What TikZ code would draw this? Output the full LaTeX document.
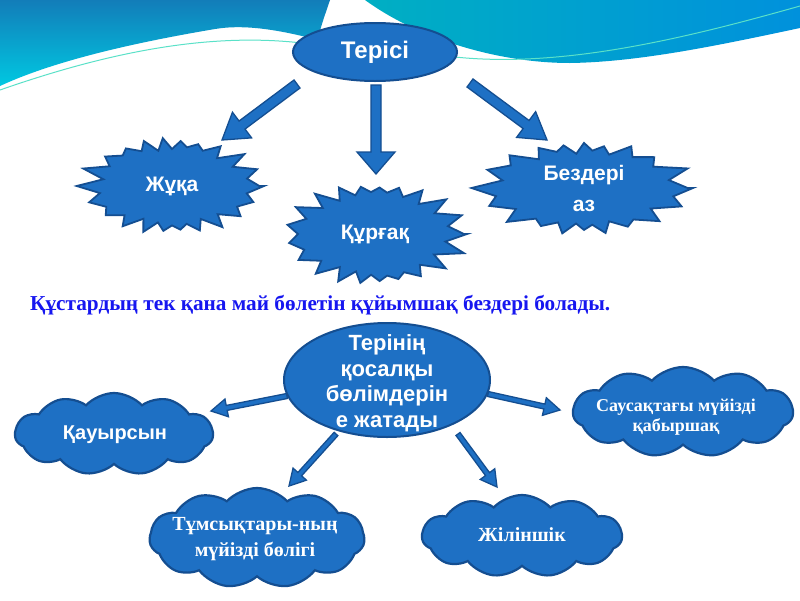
\documentclass[tikz,border=0pt]{standalone}
\usepackage{fontspec}
\setmainfont{Liberation Sans}
\newfontfamily\serifb{Liberation Serif}
\usetikzlibrary{shapes.geometric,shapes.symbols,calc}
\definecolor{mblue}{RGB}{30,112,196}
\definecolor{dblue}{RGB}{20,78,145}
\definecolor{tblue}{RGB}{22,22,240}
\definecolor{wA}{RGB}{18,125,185}
\definecolor{wB}{RGB}{0,200,225}
\definecolor{wC}{RGB}{0,175,195}
\definecolor{wD}{RGB}{0,145,220}
\definecolor{wL}{RGB}{90,225,200}
\newcommand\barrow[5]{%
  \coordinate (bB) at ($(#2)!#5!(#1)$);
  \filldraw[blockarrow] ($(#1)!#3!90:(#2)$) -- ($(bB)!#3!90:(#2)$) -- ($(bB)!#4!90:(#2)$) -- (#2) -- ($(bB)!#4!-90:(#2)$) -- ($(bB)!#3!-90:(#2)$) -- ($(#1)!#3!-90:(#2)$) -- cycle;
}
% star burst drawn around a named node: cx, cy, rx, ry, vertices, phase, spacing correction
\newcommand\starpath[7]{%
  \filldraw[burstst] plot[samples at={0,...,#5}] ({#1+#3*(1-0.2*mod(\x,2))*(1+0.05*sin(\x*#6))*cos(\x*(360/#5)+#7*sin(2*\x*(360/#5)))}, {#2+#4*(1-0.18*mod(\x,2))*(1+0.05*sin(\x*#6))*sin(\x*(360/#5)+#7*sin(2*\x*(360/#5)))}) -- cycle;
}
\tikzset{
  blockarrow/.style={fill=mblue, draw=dblue, line width=1.3pt, line join=miter},
  ellip/.style={ellipse, fill=mblue, draw=dblue, line width=2pt, inner sep=0pt},
  burstst/.style={fill=mblue, draw=dblue, line width=1.8pt, line join=miter},
  anchorn/.style={ellipse, inner sep=0pt},
  cloudn/.style={cloud, cloud puffs=11, cloud puff arc=95, fill=mblue, draw=dblue, line width=2.2pt, inner sep=0pt},
  lbl/.style={text=white, font=\fontsize{21}{25}\selectfont\bfseries, align=center, inner sep=0pt},
  slbl/.style={text=white, font=\serifb\fontsize{19}{21}\selectfont\bfseries, align=center, inner sep=0pt},
}
\begin{document}
\begin{tikzpicture}[x=1pt,y=-1pt]
\useasboundingbox (0,0) rectangle (800,600);
\fill[white] (0,0) rectangle (800,600);
% decorative waves
\shade[top color=wA, bottom color=wB] (0,0) -- (330,0) .. controls (325,15) and (320,28) .. (318,40) .. controls (280,30) and (245,24) .. (215,29) .. controls (150,40) and (60,58) .. (0,86) -- cycle;
\shade[left color=wC, right color=wD] (365,0) -- (800,0) -- (800,28) .. controls (720,45) and (640,62) .. (570,63) .. controls (500,63) and (420,40) .. (365,0) -- cycle;
\draw[wL, line width=1pt] (0,90) .. controls (120,48) and (220,32) .. (310,44);
\draw[wL, line width=1pt] (455,57) .. controls (560,68) and (680,40) .. (800,6);
% top level
\node[ellip, minimum width=164pt, minimum height=58pt] (ter) at (375,52) {};
\node[lbl, font=\fontsize{24}{28}\selectfont\bfseries] (tert) at (ter) {Терісі};
\node[anchorn, minimum width=184pt, minimum height=92pt] (zh) at (172,186) {};
\starpath{172}{186}{92}{46}{44}{137}{9.5}
\node[lbl] (zht) at (zh) {Жұқа};
\node[anchorn, minimum width=184pt, minimum height=98pt] (kur) at (375,234) {};
\starpath{375}{234}{92}{49}{42}{211}{8.7}
\node[lbl] (kurt) at (kur) {Құрғақ};
\node[anchorn, minimum width=218pt, minimum height=88pt] (bez) at (584,188) {};
\starpath{584}{188}{109}{44}{40}{97}{12}
\node[lbl, font=\fontsize{21}{31}\selectfont\bfseries] (bezt) at (584,188) {Бездері\\аз};
% arrows top
\coordinate (s1) at (297,84); \coordinate (t1) at (222,140);
\coordinate (s2) at (376,85); \coordinate (t2) at (376,174);
\coordinate (s3) at (470,83); \coordinate (t3) at (547,140);
\barrow{s1}{t1}{5pt}{16pt}{25pt}
\barrow{s2}{t2}{5pt}{19pt}{22pt}
\barrow{s3}{t3}{5pt}{16pt}{26pt}
% note line
\node[anchor=west, inner sep=0pt] (note) at (30,305) {\resizebox{580pt}{!}{\color{tblue}\serifb\bfseries Құстардың тек қана май бөлетін құйымшақ бездері болады.}};
% second level
\node[ellip, minimum width=206pt, minimum height=114pt] (qos) at (387,380) {};
\node[lbl, font=\fontsize{22}{25.5}\selectfont\bfseries] (qost) at (387,383) {Терінің\\қосалқы\\бөлімдерін\\е жатады};
\node[cloudn, minimum width=198pt, minimum height=82pt] (kau) at (114,434) {};
\node[lbl, font=\fontsize{20}{24}\selectfont\bfseries] (kaut) at (115,435) {Қауырсын};
\node[cloudn, minimum width=220pt, minimum height=90pt] (sau) at (683,412) {};
\node[slbl, font=\serifb\fontsize{18}{20}\selectfont\bfseries] (saut) at (676,417) {Саусақтағы мүйізді\\қабыршақ};
\node[cloudn, minimum width=215pt, minimum height=100pt] (tum) at (257,538) {};
\node[slbl, font=\serifb\fontsize{20}{26}\selectfont\bfseries] (tumt) at (255,539) {Тұмсықтары-ның\\мүйізді бөлігі};
\node[cloudn, minimum width=200pt, minimum height=82pt] (zhil) at (522,536) {};
\node[slbl, font=\serifb\fontsize{20}{24}\selectfont\bfseries] (zhilt) at (522,535) {Жіліншік};
% arrows bottom
\coordinate (s4) at (287,396); \coordinate (t4) at (211,411);
\coordinate (s5) at (488,394); \coordinate (t5) at (560,410);
\coordinate (s6) at (336,434); \coordinate (t6) at (289,486);
\coordinate (s7) at (458,434); \coordinate (t7) at (497,487);
\barrow{s4}{t4}{2.5pt}{9pt}{16pt}
\barrow{s5}{t5}{2.5pt}{9pt}{16pt}
\barrow{s6}{t6}{2.5pt}{9pt}{16pt}
\barrow{s7}{t7}{2.5pt}{9pt}{16pt}
\end{tikzpicture}
\end{document}
